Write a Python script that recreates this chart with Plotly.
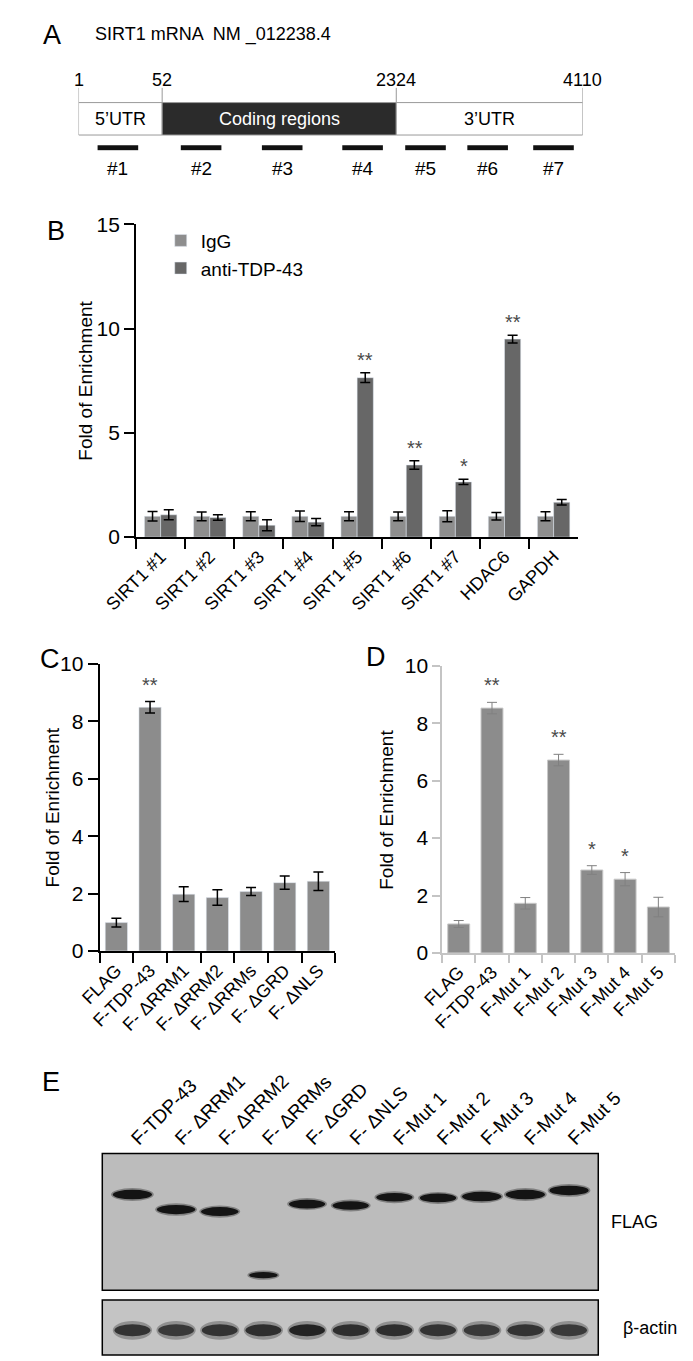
import numpy as np
import plotly.graph_objects as go

W, H = 693, 1361


def px(x):
    return x / W


def py(y):
    return 1 - y / H


FONT = "Liberation Sans, Arial, sans-serif"

# A: SIRT1 mRNA map
nt_marks = [1, 52, 2324, 4110]
region_names = ["5\u2019UTR", "Coding regions", "3\u2019UTR"]
probe_names = ["#1", "#2", "#3", "#4", "#5", "#6", "#7"]
probe_nt = [25, 430, 1217, 1997, 2604, 3199, 3830]

# B: RIP-qPCR
b_targets = ["SIRT1 #1", "SIRT1 #2", "SIRT1 #3", "SIRT1 #4", "SIRT1 #5",
             "SIRT1 #6", "SIRT1 #7", "HDAC6", "GAPDH"]
b_igg = [1.0, 1.0, 1.0, 1.0, 1.0, 1.0, 1.0, 1.0, 1.0]
b_igg_err = [0.23, 0.21, 0.22, 0.25, 0.22, 0.21, 0.26, 0.18, 0.22]
b_tdp = [1.07, 0.94, 0.57, 0.72, 7.65, 3.46, 2.65, 9.50, 1.67]
b_tdp_err = [0.24, 0.13, 0.26, 0.17, 0.23, 0.20, 0.13, 0.19, 0.13]
b_stars = ["", "", "", "", "**", "**", "*", "**", ""]

# C: deletion mutants
c_labels = ["FLAG", "F-TDP-43", "F- \u0394RRM1", "F- \u0394RRM2", "F- \u0394RRMs",
            "F- \u0394GRD", "F- \u0394NLS"]
c_vals = [0.99, 8.49, 1.98, 1.86, 2.07, 2.38, 2.43]
c_err = [0.15, 0.20, 0.26, 0.27, 0.14, 0.23, 0.32]
c_stars = ["", "**", "", "", "", "", ""]

# D: point mutants
d_labels = ["FLAG", "F-TDP-43", "F-Mut 1", "F-Mut 2", "F-Mut 3", "F-Mut 4", "F-Mut 5"]
d_vals = [1.01, 8.53, 1.73, 6.72, 2.89, 2.57, 1.60]
d_err = [0.12, 0.20, 0.20, 0.20, 0.15, 0.23, 0.34]
d_stars = ["", "**", "", "**", "*", "*", ""]

# E: western blot (relative migration, 0 = top of membrane)
e_lanes = ["F-TDP-43", "F- \u0394RRM1", "F- \u0394RRM2", "F- \u0394RRMs", "F- \u0394GRD",
           "F- \u0394NLS", "F-Mut 1", "F-Mut 2", "F-Mut 3", "F-Mut 4", "F-Mut 5"]
flag_pos = [0.30, 0.41, 0.425, 0.89, 0.37, 0.38, 0.32, 0.325, 0.315, 0.30, 0.27]
flag_signal = [1.0, 0.95, 0.9, 0.45, 0.85, 0.85, 0.85, 0.85, 1.0, 1.0, 1.0]
actin_pos = [0.55] * 11
actin_signal = [0.85, 0.8, 0.85, 0.9, 1.0, 0.9, 0.9, 0.85, 0.8, 0.85, 0.8]

fig = go.Figure()
ann = []
shapes = []


def label(x, y, text, size=18, xref="paper", yref="paper", **kw):
    d = dict(x=x, y=y, xref=xref, yref=yref, text=text, showarrow=False,
             xanchor="center", yanchor="middle", font=dict(size=size))
    d.update(kw)
    ann.append(d)


STAR = dict(size=20, color="#4a4a4a")

# ---- B ----
err_b = dict(type="data", color="black", thickness=1.5, width=5)
fig.add_trace(go.Bar(x=b_targets, y=b_igg, name="IgG", marker_color="#8e8e8e",
                     error_y=dict(err_b, array=b_igg_err), xaxis="x", yaxis="y"))
fig.add_trace(go.Bar(x=b_targets, y=b_tdp, name="anti-TDP-43", marker_color="#676767",
                     error_y=dict(err_b, array=b_tdp_err), xaxis="x", yaxis="y"))
for i, s in enumerate(b_stars):
    if s:
        label(i + 0.17, b_tdp[i] + b_tdp_err[i], s, 20, "x", "y", yanchor="bottom", yshift=0,
              font=STAR)

# ---- C ----
fig.add_trace(go.Bar(x=c_labels, y=c_vals, marker_color="#8c8c8c", showlegend=False,
                     error_y=dict(err_b, array=c_err), xaxis="x2", yaxis="y2"))
for i, s in enumerate(c_stars):
    if s:
        label(i, c_vals[i] + c_err[i], s, 20, "x2", "y2", yanchor="bottom", yshift=4,
              font=STAR)

# ---- D ----
fig.add_trace(go.Bar(x=d_labels, y=d_vals, showlegend=False,
                     marker=dict(color="#8c8c8c", line=dict(color="#c8c8c8", width=1)),
                     error_y=dict(type="data", array=d_err, color="#808080", thickness=1, width=5),
                     xaxis="x3", yaxis="y3"))
for i, s in enumerate(d_stars):
    if s:
        label(i, d_vals[i] + d_err[i], s, 20, "x3", "y3", yanchor="bottom", yshift=4,
              font=STAR)

# ---- A ----
seg_w = [1.0, 2.8, 2.23]
disp = np.concatenate([[0], np.cumsum(seg_w)])
probe_x = np.interp(probe_nt, nt_marks, disp)
fills = ["white", "#2b2b2b", "white"]
txtc = ["black", "white", "black"]
for i, name in enumerate(region_names):
    shapes.append(dict(type="rect", xref="x6", yref="paper", x0=disp[i], x1=disp[i + 1],
                       y0=py(117), y1=py(84), fillcolor=fills[i],
                       line=dict(color="#999", width=1)))
    label((disp[i] + disp[i + 1]) / 2, py(101), name, 18, "x6",
          font=dict(size=18, color=txtc[i]))
for d, nt in zip(disp, nt_marks):
    shapes.append(dict(type="line", xref="x6", yref="paper", x0=d, x1=d, y0=py(84), y1=py(69),
                       line=dict(color="#999", width=1)))
    label(d, py(61), str(nt), 18, "x6")
fig.add_trace(go.Scatter(x=probe_x, y=[0.5] * len(probe_x), mode="markers", showlegend=False,
                         text=probe_names, hoverinfo="text",
                         marker=dict(symbol="line-ew-open", size=29, color="#111",
                                     line=dict(width=5, color="#111")),
                         xaxis="x6", yaxis="y6"))
for x, name in zip(probe_x, probe_names):
    label(x, py(151), name, 19, "x6")
label(px(56), py(15), "SIRT1 mRNA \u00a0NM _012238.4", 18, xanchor="left")

# ---- E ----
shapes.append(dict(type="rect", xref="x4 domain", yref="y4 domain", x0=0, x1=1, y0=0, y1=1,
                   fillcolor="#bcbcbc", line=dict(color="black", width=1.5), layer="below"))
shapes.append(dict(type="rect", xref="x5 domain", yref="y5 domain", x0=0, x1=1, y0=0, y1=1,
                   fillcolor="#c4c4c4", line=dict(color="black", width=1.5), layer="below"))
for i, (p, s) in enumerate(zip(flag_pos, flag_signal)):
    w = 0.45 + 0.45 * s
    th = 0.025 + 0.045 * s
    shapes.append(dict(type="circle", xref="x4", yref="y4", x0=i - w / 2 - 0.04, x1=i + w / 2 + 0.04,
                       y0=p - th / 2 - 0.012, y1=p + th / 2 + 0.012,
                       fillcolor="rgba(20,20,20,0.35)", line=dict(width=0)))
    shapes.append(dict(type="circle", xref="x4", yref="y4", x0=i - w / 2, x1=i + w / 2,
                       y0=p - th / 2, y1=p + th / 2, fillcolor="#141414", line=dict(width=0)))
for i, (p, s) in enumerate(zip(actin_pos, actin_signal)):
    w = 0.82
    th = 0.22
    shapes.append(dict(type="circle", xref="x5", yref="y5", x0=i - w / 2 - 0.04, x1=i + w / 2 + 0.04,
                       y0=p - th / 2 - 0.06, y1=p + th / 2 + 0.06,
                       fillcolor="rgba(50,50,50,0.35)", line=dict(width=0)))
    shapes.append(dict(type="circle", xref="x5", yref="y5", x0=i - w / 2, x1=i + w / 2,
                       y0=p - th / 2, y1=p + th / 2,
                       fillcolor="rgba(35,35,35,%.2f)" % s, line=dict(width=0)))
fig.add_trace(go.Scatter(x=list(range(11)), y=flag_pos, mode="markers", opacity=0,
                         text=e_lanes, hoverinfo="text", showlegend=False,
                         xaxis="x4", yaxis="y4"))
fig.add_trace(go.Scatter(x=list(range(11)), y=actin_pos, mode="markers", opacity=0,
                         text=e_lanes, hoverinfo="text", showlegend=False,
                         xaxis="x5", yaxis="y5"))
label(px(649), py(1223), "FLAG", 18)
label(px(666), py(1330), "\u03b2-actin", 18)

# panel letters and y titles
for letter, x, y in [("A", 11, 15), ("B", 15, 215), ("C", 9, 650), ("D", 366, 648), ("E", 10, 1080)]:
    label(px(x), py(y), letter, 27)
for x, y in [(48, 367), (12, 801), (377, 803)]:
    label(px(x), py(y), "Fold of Enrichment", 19, textangle=-90)

bar_x = dict(type="category", tickson="boundaries", ticks="outside", ticklen=10, tickwidth=1.5,
             tickcolor="black", showline=True, linecolor="black", linewidth=2, tickangle=-45,
             tickfont=dict(size=18), showgrid=False, zeroline=False)
bar_y = dict(ticks="outside", ticklen=10, tickwidth=1.5, tickcolor="black", showline=True,
             linecolor="black", linewidth=2, tickfont=dict(size=21),
             showgrid=False, zeroline=False)
grey = dict(linecolor="#c4c4c4", tickcolor="#c4c4c4", linewidth=1.5, ticklen=8)
hidden = dict(visible=False, showgrid=False, zeroline=False)

fig.update_layout(
    width=W, height=H, margin=dict(l=0, r=0, t=0, b=0),
    paper_bgcolor="white", plot_bgcolor="white",
    font=dict(family=FONT, color="black"),
    barmode="group", bargap=0.34, bargroupgap=0,
    legend=dict(x=px(130), y=py(205), xanchor="left", yanchor="top", font=dict(size=19),
                bgcolor="rgba(0,0,0,0)", tracegroupgap=0),
    xaxis=dict(bar_x, domain=[px(103), px(587)], anchor="y"),
    yaxis=dict(bar_y, domain=[py(526), py(208)], range=[0, 15], tickvals=[0, 5, 10, 15], anchor="x"),
    xaxis2=dict(bar_x, domain=[px(63), px(321)], anchor="y2"),
    yaxis2=dict(bar_y, domain=[py(947), py(655)], range=[0, 10], dtick=2, anchor="x2"),
    xaxis3=dict(bar_x, **grey, domain=[px(438), 1], anchor="y3"),
    yaxis3=dict(bar_y, **grey, domain=[py(949), py(657)], range=[0, 10], dtick=2, anchor="x3"),
    xaxis4=dict(domain=[px(66), px(609)], range=[-0.69, 10.67], side="top", anchor="y4",
                tickvals=list(range(11)), ticktext=e_lanes, tickangle=-45, ticks="",
                showline=False, showgrid=False, zeroline=False, tickfont=dict(size=19)),
    yaxis4=dict(hidden, domain=[py(1292), py(1153)], range=[1, 0], anchor="x4"),
    xaxis5=dict(hidden, domain=[px(66), px(609)], range=[-0.69, 10.67], anchor="y5"),
    yaxis5=dict(hidden, domain=[py(1358), py(1302)], range=[1, 0], anchor="x5"),
    xaxis6=dict(hidden, domain=[px(40), px(592)], range=[0, disp[-1]], anchor="y6"),
    yaxis6=dict(hidden, domain=[py(133), py(127)], range=[0, 1], anchor="x6"),
    annotations=ann, shapes=shapes,
)

fig.write_html("out.html")
